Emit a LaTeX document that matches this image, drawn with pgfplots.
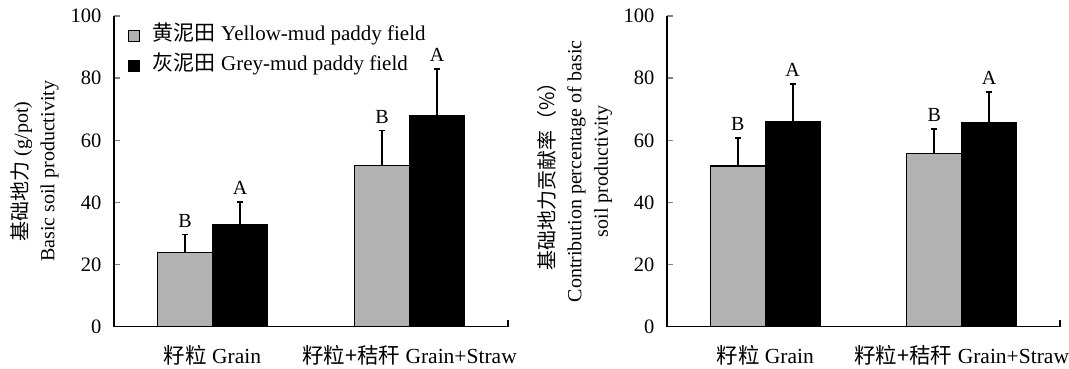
\documentclass[border=0pt]{standalone}
\usepackage{fontspec}
\setmainfont{Liberation Serif}
\newfontfamily\cjk{Noto Sans CJK SC}
\newcommand\zh[1]{{\cjk #1}}
\usepackage{pgfplots}
\pgfplotsset{compat=1.18}
\definecolor{barGray}{RGB}{178,178,178}
\tikzset{lett/.style={anchor=south, inner sep=0pt, yshift=7pt, font=\fontsize{20}{24}\selectfont}}
\pgfplotsset{
  mybars/.style={
    width=394pt, height=310.7pt, scale only axis,
    xmin=-0.5, xmax=1.5, ymin=0, ymax=100,
    axis x line*=bottom, axis y line*=left,
    axis line style={line width=1.3pt},
    ytick={0,20,...,100},
    tick align=inside,
    major tick length=6pt,
    ytick style={line width=1.3pt},
    xtick={0,1},
    xticklabels={\zh{籽粒} Grain, \zh{籽粒+秸秆} Grain+Straw},
    xtick style={draw=none},
    /pgf/number format/assume math mode=true,
    yticklabel style={xshift=-9pt, font=\fontsize{20.5}{24}\selectfont},
    xticklabel style={yshift=-9pt, font=\fontsize{21.5}{24}\selectfont},
    label style={font=\fontsize{20}{26.5}\selectfont},
    clip=false,
    ybar=0pt, bar width=55pt,
    error bars/error bar style={line width=1.6pt, black},
    error bars/error mark options={rotate=90, line width=1.6pt, mark size=3pt, black},
  },
  barA/.style={draw=black, line width=1.2pt, fill=barGray,
    error bars/.cd, y dir=plus, y explicit},
  barB/.style={draw=black, line width=1.2pt, fill=black,
    error bars/.cd, y dir=plus, y explicit},
}
\begin{document}
\begin{tikzpicture}
\path[use as bounding box] (0,0) rectangle (1069pt,-368pt);
% ---------- left panel ----------
\begin{axis}[mybars, at={(114pt,-326.7pt)}, anchor=south west,
  ylabel={\zh{基础地力} (g/pot)\\Basic soil productivity},
  ylabel style={align=center, at={(axis description cs:-0.2005,0.5)}, anchor=center},
  legend style={draw=none, fill=none, at={(axis description cs:0.035,0.975)}, anchor=north west,
    inner sep=0pt, font=\fontsize{21}{24}\selectfont, column sep=11pt, row sep=6pt,
    nodes={text height=15pt, text depth=5pt, inner sep=2pt}},
  legend cell align=left,
  legend image code/.code={\draw[#1, line width=1pt, draw=black] (0pt,-5.5pt) rectangle (11pt,5.5pt);},
]
\addplot[barA] coordinates {(0,23.8) +- (0,5.9) (1,51.9) +- (0,11.2)};
\addplot[barB] coordinates {(0,32.8) +- (0,7.4) (1,68.1) +- (0,14.9)};
\legend{\zh{黄泥田} Yellow-mud paddy field, \zh{灰泥田} Grey-mud paddy field}
\node[lett] at (axis cs:-0.1396,29.7) {B};
\node[lett] at (axis cs:0.1396,40.2) {A};
\node[lett] at (axis cs:0.8604,63.1) {B};
\node[lett] at (axis cs:1.1396,83.0) {A};
\draw[line width=1.3pt] (axis cs:1.5,0) -- (axis cs:1.5,2);
\end{axis}
% ---------- right panel ----------
\begin{axis}[mybars, at={(667pt,-326.7pt)}, anchor=south west, width=393pt,
  ylabel={\zh{基础地力贡献率（\%）}\\Contribution percentage of basic\\soil productivity},
  ylabel style={align=center, at={(axis description cs:-0.234,0.5)}, anchor=center},
]
\addplot[barA] coordinates {(0,51.7) +- (0,9.1) (1,55.8) +- (0,7.8)};
\addplot[barB] coordinates {(0,66.1) +- (0,12.1) (1,65.7) +- (0,9.8)};
\node[lett] at (axis cs:-0.1396,60.8) {B};
\node[lett] at (axis cs:0.1396,78.2) {A};
\node[lett] at (axis cs:0.8604,63.6) {B};
\node[lett] at (axis cs:1.1396,75.5) {A};
\draw[line width=1.3pt] (axis cs:1.5,0) -- (axis cs:1.5,2);
\end{axis}
\end{tikzpicture}
\end{document}
